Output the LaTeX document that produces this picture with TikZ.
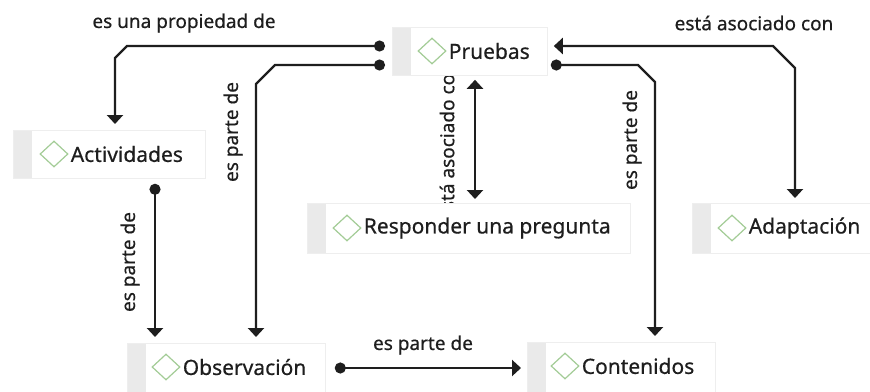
\documentclass[tikz,border=0pt]{standalone}
\usepackage{fontspec}
\setmainfont{Noto Sans}[FakeBold=0.5]
\usetikzlibrary{arrows.meta,shapes.geometric,calc}
\definecolor{stripgray}{HTML}{EAEAEA}
\definecolor{boxline}{HTML}{EEEEEE}
\definecolor{gemgreen}{HTML}{A3CC96}
\definecolor{ink}{HTML}{1E1E1E}
\begin{document}
\begin{tikzpicture}[x=1pt,y=-1pt,
  box/.style={draw=boxline, fill=white, line width=0.8pt, inner sep=0pt, anchor=north west,
    path picture={\fill[stripgray] (path picture bounding box.north west) rectangle ([xshift=19pt]path picture bounding box.south west);}},
  gem/.style={diamond, draw=gemgreen, line width=1.2pt, fill=white, minimum width=28pt, minimum height=26pt, inner sep=0pt},
  lbl/.style={anchor=west, inner sep=0pt, text=ink, font=\fontsize{21}{24}\selectfont\bfseries},
  elbl/.style={inner sep=0pt, text=ink, font=\fontsize{19}{22}\selectfont\bfseries},
  rel/.style={draw=ink, line width=2.4pt},
  dotstart/.style={{Circle[length=11pt]}-{Triangle[width=16pt,length=9pt]}},
  both/.style={{Triangle[width=16pt,length=9pt]}-{Triangle[width=16pt,length=9pt]}}
]
\useasboundingbox (0,0) rectangle (870,391);
\fill[white] (0,0) rectangle (870,391);

% label partly hidden by the Pruebas and Responder boxes
\node[elbl, rotate=90, anchor=west] (l5) at (447,221) {está asociado con};

% boxes
\node[box, minimum width=155pt, minimum height=48pt] (pru) at (392,27) {};
\node[box, minimum width=192pt, minimum height=48pt] (act) at (13,130) {};
\node[box, minimum width=323pt, minimum height=50pt] (res) at (307,203) {};
\node[box, minimum width=190pt, minimum height=50pt] (ada) at (692,203) {};
\node[box, minimum width=198pt, minimum height=50pt] (obs) at (127,343) {};
\node[box, minimum width=188pt, minimum height=50pt] (con) at (527,342) {};

% diamonds and texts
\node[gem] (pru-d) at (432,51) {};
\node[lbl] (pru-t) at ($(pru-d.east)+(2,0)$) {Pruebas};
\node[gem] (act-d) at (54,154) {};
\node[lbl] (act-t) at ($(act-d.east)+(2,0)$) {Actividades};
\node[gem] (res-d) at (347,228) {};
\node[lbl] (res-t) at ($(res-d.east)+(2,0)$) {Responder una pregunta};
\node[gem] (ada-d) at (732,228) {};
\node[lbl] (ada-t) at ($(ada-d.east)+(2,0)$) {Adaptación};
\node[gem] (obs-d) at (166,367) {};
\node[lbl] (obs-t) at ($(obs-d.east)+(2,0)$) {Observación};
\node[gem] (con-d) at (565,366) {};
\node[lbl] (con-t) at ($(con-d.east)+(2,0)$) {Contenidos};

% connectors
\draw[rel, dotstart] ($(pru.north west)+(-7,19)$) -- (127,46) -- (115,58) -- ($(act.north west)+(102,-6)$);
\node[elbl] (l1) at (184,23) {es una propiedad de};

\draw[rel, dotstart] ($(pru.north west)+(-7,38)$) -- (275,65) -- (256,84) -- ($(obs.north west)+(129,-6)$);
\node[elbl, rotate=90] (l2) at (233,132) {es parte de};

\draw[rel, dotstart] ($(act.south west)+(142,5)$) -- ($(obs.north west)+(28,-6)$);
\node[elbl, rotate=90] (l3) at (130,262) {es parte de};

\draw[rel, dotstart] ($(obs.north east)+(9,25)$) -- ($(con.north west)+(-6,26)$);
\node[elbl] (l4) at (423,345) {es parte de};

\draw[rel, both] ($(pru.south west)+(83,4)$) -- ($(res.north west)+(168,-4)$);

\draw[rel, both] ($(pru.north east)+(6,19)$) -- (773,46) -- (795,68) -- ($(ada.north west)+(103,-5)$);
\node[elbl] (l6) at (754,23) {está asociado con};

\draw[rel, dotstart] ($(pru.north east)+(3,38)$) -- (638,65) -- (655,82) -- ($(con.north west)+(128,-6)$);
\node[elbl, rotate=90] (l7) at (632,140) {es parte de};
\end{tikzpicture}
\end{document}
